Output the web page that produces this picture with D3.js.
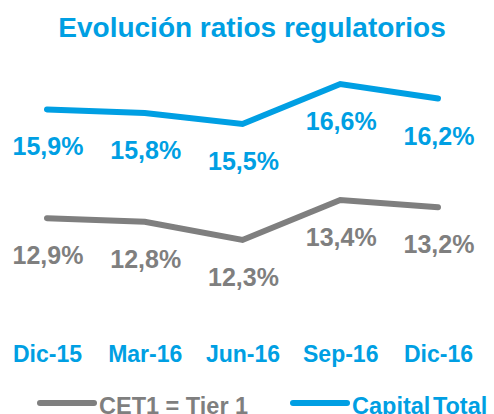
<!DOCTYPE html>
<html>
<head>
<meta charset="utf-8">
<script src="https://cdn.jsdelivr.net/npm/d3@7"></script>
<style>
    html, body { margin: 0; padding: 0; background: #fff; }
    svg { display: block; font-family: "Liberation Sans", Arial, sans-serif; font-weight: bold; }
</style>
</head>
<body>
<svg id="chart" width="494" height="414"></svg>
<script>
const categories = ['Dic-15', 'Mar-16', 'Jun-16', 'Sep-16', 'Dic-16'];
const capitalTotal = [15.9, 15.8, 15.5, 16.6, 16.2];
const cet1 = [12.9, 12.8, 12.3, 13.4, 13.2];
const seriesNames = ['CET1 = Tier 1', 'Capital Total'];
const title = 'Evolución ratios regulatorios';

const blue = '#009fe3';
const grey = '#7f7f7f';

const svg = d3.select('#chart');

const x = d3.scalePoint()
    .domain(categories)
    .range([47, 438]);

const y = d3.scaleLinear()
    .domain([12.3, 16.6])
    .range([240, 84]);

const locale = d3.formatLocale({ decimal: ',', thousands: '.', grouping: [3], currency: ['', '€'] });
const pct = v => locale.format('.1f')(v) + '%';

svg.append('text')
    .attr('x', 252)
    .attr('y', 37)
    .attr('text-anchor', 'middle')
    .attr('fill', blue)
    .style('font-size', '28px')
    .text(title);

const series = [
    { name: seriesNames[1], values: capitalTotal, color: blue },
    { name: seriesNames[0], values: cet1, color: grey }
];

const line = d3.line()
    .x((d, i) => x(categories[i]))
    .y(d => y(d));

series.forEach((s) => {
    svg.append('path')
        .datum(s.values)
        .attr('d', line)
        .attr('fill', 'none')
        .attr('stroke', s.color)
        .attr('stroke-width', 6)
        .attr('stroke-linecap', 'round')
        .attr('stroke-linejoin', 'miter');

    svg.append('g')
        .selectAll('text')
        .data(s.values)
        .enter()
        .append('text')
        .attr('x', (d, i) => x(categories[i]) + 1)
        .attr('y', d => y(d) + 46)
        .attr('text-anchor', 'middle')
        .attr('fill', s.color)
        .style('font-size', '25px')
        .text(pct);
});

const xAxe = d3.axisBottom(x)
    .tickSize(0)
    .tickPadding(0);

const axisG = svg.append('g')
    .attr('transform', 'translate(0,346)')
    .call(xAxe);

axisG.select('.domain').remove();
axisG.selectAll('text')
    .attr('fill', blue)
    .style('font-family', '"Liberation Sans", Arial, sans-serif')
    .style('font-weight', 'bold')
    .style('font-size', '23px');

// legend
const legendItems = [
    { name: seriesNames[0], color: grey, x: 40 },
    { name: seriesNames[1], color: blue, x: 293 }
];

const legend = svg.append('g');

legend.selectAll('line')
    .data(legendItems)
    .enter()
    .append('line')
    .attr('x1', d => d.x)
    .attr('x2', d => d.x + 54)
    .attr('y1', 403)
    .attr('y2', 403)
    .attr('stroke', d => d.color)
    .attr('stroke-width', 6)
    .attr('stroke-linecap', 'round');

legend.selectAll('text')
    .data(legendItems)
    .enter()
    .append('text')
    .attr('x', d => d.x + 59)
    .attr('y', 414)
    .attr('fill', d => d.color)
    .style('font-size', '23.5px')
    .style('word-spacing', d => d.color === blue ? '-4px' : '0px')
    .text(d => d.name);
</script>
</body>
</html>
